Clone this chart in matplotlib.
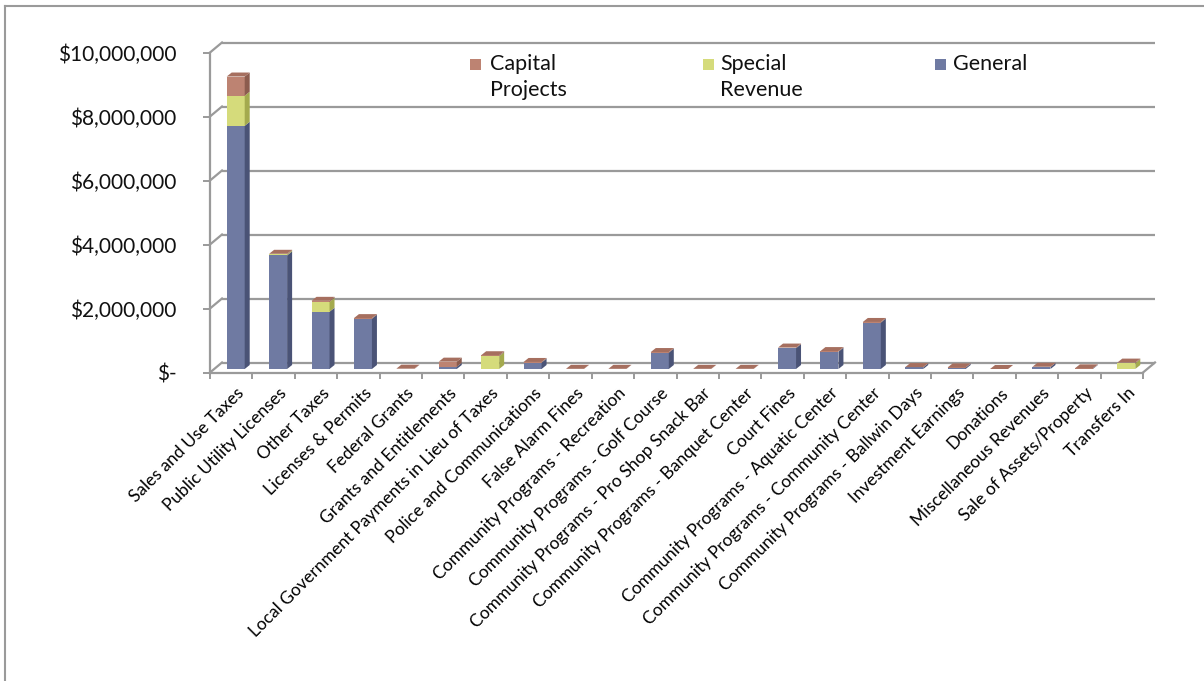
import matplotlib
matplotlib.use("Agg")
import matplotlib.pyplot as plt
from matplotlib.patches import Polygon
from matplotlib.lines import Line2D
import numpy as np

# ---------------- data ----------------
categories = [
    "Sales and Use Taxes", "Public Utility Licenses", "Other Taxes",
    "Licenses & Permits", "Federal Grants", "Grants and Entitlements",
    "Local Government Payments in Lieu of Taxes", "Police and Communications",
    "False Alarm Fines", "Community Programs - Recreation",
    "Community Programs - Golf Course", "Community Programs - Pro Shop Snack Bar",
    "Community Programs - Banquet Center", "Court Fines",
    "Community Programs - Aquatic Center", "Community Programs - Community Center",
    "Community Programs - Ballwin Days", "Investment Earnings", "Donations",
    "Miscellaneous Revenues", "Sale of Assets/Property", "Transfers In",
]
general = [7600000, 3550000, 1790000, 1570000, 0, 70000, 0, 200000, 0, 0,
           510000, 0, 0, 650000, 540000, 1450000, 50000, 40000, 0, 60000, 15000, 0]
special = [940000, 30000, 310000, 0, 0, 0, 400000, 0, 0, 0,
           0, 0, 0, 0, 0, 0, 0, 0, 0, 0, 0, 180000]
capital = [600000, 20000, 30000, 20000, 10000, 160000, 30000, 20000, 5000, 5000,
           20000, 5000, 5000, 20000, 20000, 20000, 10000, 10000, 0, 10000, 5000, 20000]
series_names = ["Capital\nProjects", "Special\nRevenue", "General"]
ytick_vals = [0, 2000000, 4000000, 6000000, 8000000, 10000000]
ytick_labels = ["$-", "$2,000,000", "$4,000,000", "$6,000,000", "$8,000,000", "$10,000,000"]

# ---------------- style ----------------
W, H, DPI = 1204, 681, 100
front_col = {"general": "#6F7AA2", "special": "#D5DB7B", "capital": "#BD8372"}
side_col = {"general": "#4A5376", "special": "#A4AA4E", "capital": "#8C5C4E"}
top_col = "#A66F5F"
grid_col = "#9A9A9A"

fig = plt.figure(figsize=(W / DPI, H / DPI), dpi=DPI)
fig.patch.set_facecolor("white")

# axes = front plane of the 3-D box
ax_left_px, ax_right_px = 210, 1143
ax_top_px, ax_bot_px = 52.5, 372.5
ax = fig.add_axes([ax_left_px / W, 1 - ax_bot_px / H,
                   (ax_right_px - ax_left_px) / W, (ax_bot_px - ax_top_px) / H])
n = len(categories)
ymax = 10000000
ax.set_xlim(0, n)
ax.set_ylim(0, ymax)
ax.patch.set_alpha(0)

px_x = n / (ax_right_px - ax_left_px)          # category units per pixel
px_y = ymax / (ax_bot_px - ax_top_px)          # dollars per pixel

wall_dx, wall_dy = 12 * px_x, 10 * px_y
bar_dx, bar_dy = 4.5 * px_x, 3.5 * px_y
bar_w = 18 * px_x
dep_dx, dep_dy = 5 * px_x, 4 * px_y

# back wall gridlines and connectors
for v in ytick_vals:
    ax.plot([wall_dx, n + wall_dx], [v + wall_dy, v + wall_dy], color=grid_col,
            lw=1.6, clip_on=False, zorder=1, solid_capstyle="butt")
    ax.plot([0, wall_dx], [v, v + wall_dy], color=grid_col, lw=1.6,
            clip_on=False, zorder=1)
# floor right edge
ax.plot([n, n + wall_dx], [0, wall_dy], color=grid_col, lw=1.6, clip_on=False, zorder=1)

# spines / ticks
for s in ["top", "right"]:
    ax.spines[s].set_visible(False)
for s in ["left", "bottom"]:
    ax.spines[s].set_color(grid_col)
    ax.spines[s].set_linewidth(1.6)

ax.set_yticks(ytick_vals)
ax.set_yticklabels(ytick_labels, fontfamily="Lato", fontsize=15, color="#111111")
ax.tick_params(axis="y", length=5, width=1.4, color=grid_col, pad=19)

centers = np.arange(n) + 0.5
ax.set_xticks(centers)
ax.set_xticklabels(categories, rotation=45, ha="right", va="top",
                   rotation_mode="anchor", fontfamily="Lato", fontsize=12.5)
ax.tick_params(axis="x", which="major", length=0, pad=9)
ax.set_xticks(np.arange(n + 1), minor=True)
ax.tick_params(axis="x", which="minor", length=4, width=1.4, color=grid_col, direction="out")
for lab in ax.get_xticklabels():
    lab.set_transform(lab.get_transform() + matplotlib.transforms.ScaledTranslation(5 / DPI, 0, fig.dpi_scale_trans))

# ---------------- bars ----------------
g = np.array(general, float)
s_ = np.array(special, float)
c = np.array(capital, float)
xl = centers - bar_w / 2 + bar_dx
stack = [("general", g, np.zeros(n)), ("special", s_, g), ("capital", c, g + s_)]
for key, vals, bottoms in stack:
    ax.bar(xl, vals, width=bar_w, bottom=bottoms + bar_dy, align="edge",
           color=front_col[key], edgecolor="none", zorder=3)
    for i in range(n):
        if vals[i] <= 0:
            continue
        xr = xl[i] + bar_w
        y0 = bottoms[i] + bar_dy
        y1 = bottoms[i] + vals[i] + bar_dy
        ax.add_patch(Polygon([[xr, y0], [xr + dep_dx, y0 + dep_dy],
                              [xr + dep_dx, y1 + dep_dy], [xr, y1]], closed=True,
                             facecolor=side_col[key], edgecolor="none", zorder=3))
tot = g + s_ + c
for i in range(n):
    yt = tot[i] + bar_dy
    ax.add_patch(Polygon([[xl[i], yt], [xl[i] + bar_w, yt],
                          [xl[i] + bar_w + dep_dx, yt + dep_dy],
                          [xl[i] + dep_dx, yt + dep_dy]], closed=True,
                         facecolor=top_col, edgecolor="none", zorder=4))

# ---------------- legend ----------------
leg_cols = [front_col["capital"], front_col["special"], front_col["general"]]
leg_sq_x = [470, 703, 935]
leg_txt_x = [490, 720, 953]
for name, col, sx, tx in zip(series_names, leg_cols, leg_sq_x, leg_txt_x):
    fig.patches.append(matplotlib.patches.Rectangle((sx / W, 1 - 70 / H), 11 / W, 11 / H,
                       transform=fig.transFigure, facecolor=col, edgecolor="none"))
    fig.text(tx / W, 1 - 54 / H, name, fontfamily="Lato", fontsize=15.5,
             va="top", ha="left", linespacing=1.4, color="#111111")

# outer frame (top and left edges)
fig.add_artist(Line2D([5 / W, 1], [1 - 6 / H, 1 - 6 / H], color="#9A9A9A", lw=1.5,
                      transform=fig.transFigure))
fig.add_artist(Line2D([5 / W, 5 / W], [0, 1 - 6 / H], color="#9A9A9A", lw=1.5,
                      transform=fig.transFigure))

fig.savefig("out.png", dpi=DPI)
